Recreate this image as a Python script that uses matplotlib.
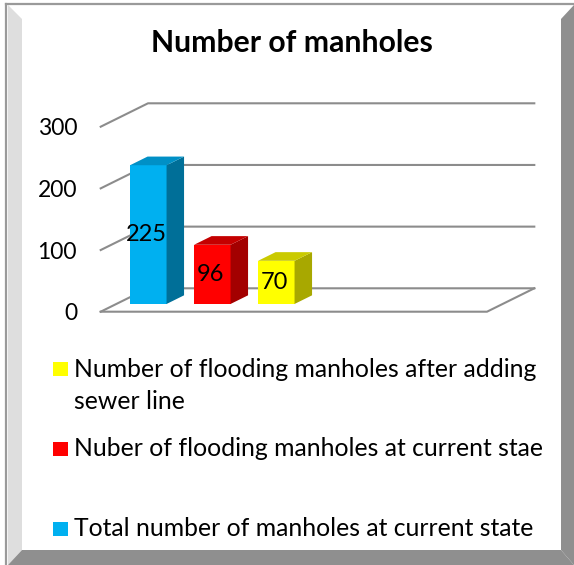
import matplotlib
matplotlib.use("Agg")
import matplotlib.pyplot as plt
from matplotlib.patches import Polygon, Rectangle

plt.rcParams["font.family"] = ["Lato", "DejaVu Sans"]

# data
series = ["Total number of manholes at current state",
          "Nuber of flooding manholes at current stae",
          "Number of flooding manholes after adding\nsewer line"]
values = [225, 96, 70]
front_cols = ["#00B0F0", "#FF0000", "#FFFF00"]
side_cols = ["#006F98", "#A30000", "#A8A800"]
top_cols = ["#0090C6", "#C40000", "#CACA00"]
yticks = [0, 100, 200, 300]

W, H = 574, 565
fig = plt.figure(figsize=(W / 100, H / 100), dpi=100)

# frame with bevel (figure pixel coords, y down)
def fpoly(pts, color, z=0):
    fig.patches.append(Polygon([(x / W, 1 - y / H) for x, y in pts],
                               closed=True, transform=fig.transFigure,
                               facecolor=color, edgecolor="none", zorder=z))

fpoly([(8, 5), (22, 19), (22, 550), (8, 565)], "#DEDEDE")
fpoly([(561, 19), (574, 5), (574, 565), (561, 550)], "#8F8F8F")
fpoly([(8, 565), (22, 550), (561, 550), (574, 565)], "#8F8F8F")
fig.lines.append(plt.Line2D([6 / W, 6 / W], [0, 1 - 4 / H], transform=fig.transFigure,
                            color="#9A9A9A", lw=1.6))
fig.lines.append(plt.Line2D([6 / W, 1], [1 - 4 / H, 1 - 4 / H], transform=fig.transFigure,
                            color="#9A9A9A", lw=1.6))

# plot area: front plane of the 3D floor
left, right, zero_y, top_y = 100.7, 487.0, 311.7, 126.7
ax = fig.add_axes([left / W, 1 - zero_y / H, (right - left) / W, (zero_y - top_y) / H])
unit_px = 64.0
xmin = -0.5
xmax = xmin + (right - left) / unit_px
ax.set_xlim(xmin, xmax)
ax.set_ylim(0, 300)
for s in ax.spines.values():
    s.set_visible(False)
ax.set_xticks([])
ax.set_yticks(yticks)
ax.tick_params(axis="y", length=0, pad=17, labelsize=16.5)
ax.patch.set_visible(False)

# depth vector (full floor depth) in data units
DX = 47.3 / unit_px
DV = 23.4 / ((zero_y - top_y) / 300)

def P(x, v, d):
    return (x + d * DX, v + d * DV)

gcol, glw = "#8C8C8C", 1.5
for v in yticks:
    xs, ys = zip(P(xmin, v, 0), P(xmin, v, 1), P(xmax, v, 1))
    ax.plot(xs, ys, color=gcol, lw=glw, clip_on=False, zorder=1)
xs, ys = zip(P(xmin, 0, 0), P(xmax, 0, 0), P(xmax, 0, 1))
ax.plot(xs, ys, color=gcol, lw=glw, clip_on=False, zorder=1)

# 3D bars
d0, d1 = 0.33, 0.70
w = 0.57
pos = list(range(len(values)))
ax.bar([p + d0 * DX for p in pos], values, width=w, bottom=d0 * DV,
       color=front_cols, edgecolor="none", zorder=3, clip_on=False)
for p, v, sc, tc in zip(pos, values, side_cols, top_cols):
    xl, xr = p - w / 2, p + w / 2
    ax.add_patch(Polygon([P(xr, 0, d0), P(xr, 0, d1), P(xr, v, d1), P(xr, v, d0)],
                         facecolor=sc, edgecolor="none", zorder=3, clip_on=False))
    ax.add_patch(Polygon([P(xl, v, d0), P(xr, v, d0), P(xr, v, d1), P(xl, v, d1)],
                         facecolor=tc, edgecolor="none", zorder=3, clip_on=False))
    cx, cy = P(p, v / 2, d0)
    ax.text(cx - 0.03, cy, str(v), ha="center", va="center", fontsize=17,
            color="black", zorder=5)

fig.text(292 / W, 1 - 43 / H, "Number of manholes", ha="center", va="center",
         fontsize=21.7, fontweight="bold")

# legend (reverse order, as in the source)
leg_y = [385.5, 449, 529]
for name, col, y in zip(series[::-1], front_cols[::-1], leg_y):
    sq_y = y if "\n" not in name else 368.5
    fig.patches.append(Rectangle((53 / W, 1 - (sq_y + 7) / H), 15 / W, 14 / H,
                                 transform=fig.transFigure, facecolor=col,
                                 edgecolor="none"))
    fig.text(74 / W, 1 - y / H, name, ha="left", va="center", fontsize=17.8,
             linespacing=1.5)

fig.savefig("out.png", dpi=100)
